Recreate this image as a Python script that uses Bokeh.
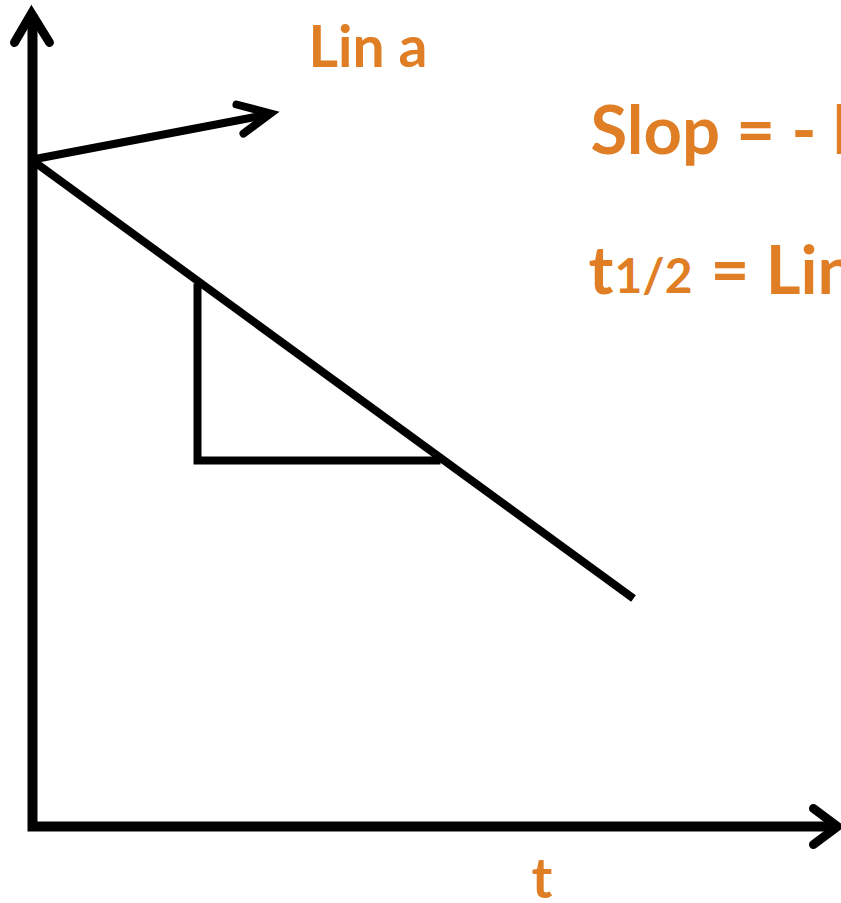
from bokeh.plotting import figure
from bokeh.models import Range1d
from bokeh.core.properties import value
from bokeh.embed import file_html
from bokeh.resources import INLINE

# Diagram geometry (reference pixel space: x to the right, y downwards)
axis_x = [32, 32, 836]
axis_y = [14, 826, 826]
y_head_x = [14, 31, 49]
y_head_y = [42, 13, 42]
x_head_x = [813, 837, 813]
x_head_y = [808, 826, 844]
decay_x = [32, 633]
decay_y = [160, 598]
lina_x = [32, 268]
lina_y = [159, 114]
lina_head_x = [236, 270, 243]
lina_head_y = [104, 113, 133]
tri_x = [197, 197, 440]
tri_y = [283, 460, 460]

# Labels (anchor positions)
label_text = ["Lin a", "Slop = - k", "t", "1/2", "= Lin 2/k", "t"]
label_x = [308, 590, 588, 614, 710, 531]
label_y = [44, 127, 267, 274, 267, 876]
label_size = ["57px", "67px", "67px", "48px", "67px", "56px"]

ORANGE = "#DF7E25"

p = figure(width=841, height=903, output_backend="svg", toolbar_location=None,
           x_range=Range1d(0, 841), y_range=Range1d(903, 0), min_border=0,
           background_fill_color="white", border_fill_color="white")
p.axis.visible = False
p.grid.visible = False
p.outline_line_color = None

p.line(axis_x, axis_y, line_width=10, line_color="black", line_join="miter", line_cap="butt")
p.line(y_head_x, y_head_y, line_width=9, line_color="black", line_join="miter", line_cap="round")
p.line(x_head_x, x_head_y, line_width=9, line_color="black", line_join="miter", line_cap="round")
p.line(decay_x, decay_y, line_width=8, line_color="black", line_cap="butt")
p.line(lina_x, lina_y, line_width=8, line_color="black", line_cap="butt")
p.line(lina_head_x, lina_head_y, line_width=8, line_color="black", line_join="miter", line_cap="round")
p.line(tri_x, tri_y, line_width=8, line_color="black", line_join="miter", line_cap="butt")

for t, x, y, s in zip(label_text, label_x, label_y, label_size):
    p.text(x=[x], y=[y], text=[t], text_font=value("Lato"), text_font_style="bold",
           text_font_size=s, text_color=ORANGE, text_baseline="alphabetic", text_align="left")

open("out.html", "w").write(file_html(p, INLINE))
